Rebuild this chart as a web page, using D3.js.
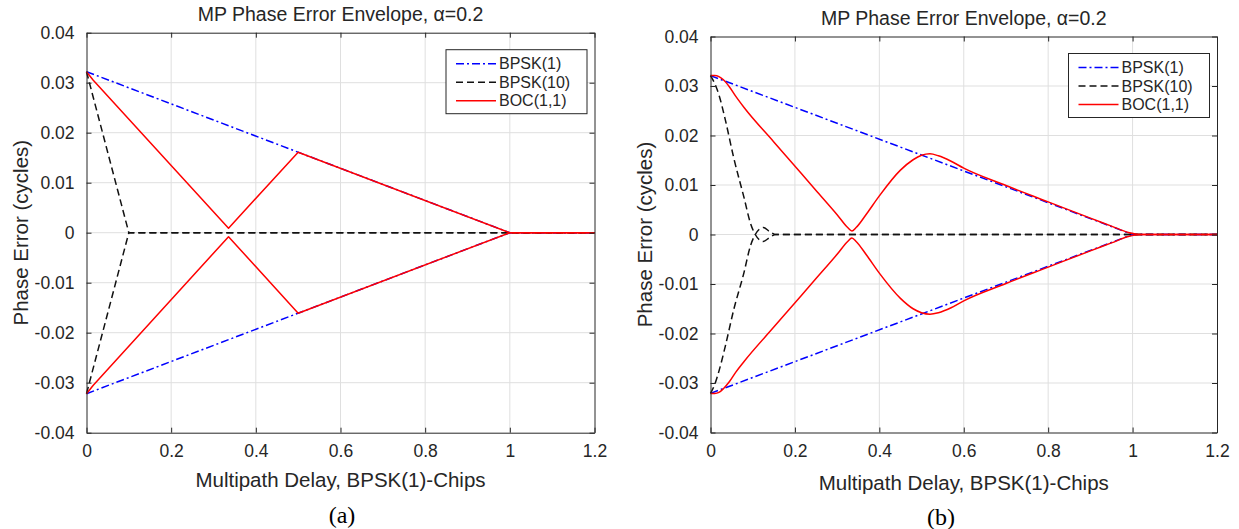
<!DOCTYPE html>
<html>
<head>
<meta charset="utf-8">
<script src="https://cdn.jsdelivr.net/npm/d3@7"></script>
<style>
  html, body { margin: 0; padding: 0; background: #fff; }
  svg { display: block; font-family: "Liberation Sans", Arial, Helvetica, sans-serif; }
</style>
</head>
<body>
<svg id="fig" width="1239" height="529"></svg>
<script>
// ---- axis ticks shared by both panels ----
const xTickValues = [0, 0.2, 0.4, 0.6, 0.8, 1, 1.2];
const xTickLabels = ["0", "0.2", "0.4", "0.6", "0.8", "1", "1.2"];
const yTickValues = [-0.04, -0.03, -0.02, -0.01, 0, 0.01, 0.02, 0.03, 0.04];
const yTickLabels = ["-0.04", "-0.03", "-0.02", "-0.01", "0", "0.01", "0.02", "0.03", "0.04"];
const seriesNames = ["BPSK(1)", "BPSK(10)", "BOC(1,1)"];
const titleText = "MP Phase Error Envelope, ";
const titleSymbol = "\u03B1=0.2";
const xLabelText = "Multipath Delay, BPSK(1)-Chips";
const yLabelText = "Phase Error (cycles)";
const captions = ["(a)", "(b)"];

// ---- (a) infinite-bandwidth envelopes: delay (chips) -> phase error (cycles) ----
const delayA_bpsk1 = [0, 1, 1.2];
const upperA_bpsk1 = [0.0322, 0, 0];
const lowerA_bpsk1 = [-0.0322, 0, 0];

const delayA_bpsk10 = [0, 0.1, 1.2];
const upperA_bpsk10 = [0.0322, 0, 0];
const lowerA_bpsk10 = [-0.0322, 0, 0];

const delayA_boc = [0, 0.016, 0.3355, 0.5, 1, 1.2];
const upperA_boc = [0.0322, 0.0305, 0.0009, 0.0161, 0, 0];
const lowerA_boc = [-0.0322, -0.0305, -0.0008, -0.0161, 0, 0];

// ---- (b) band-limited envelopes ----
const delayB_bpsk1 = [0, 1, 1.2];
const upperB_bpsk1 = [0.0321, 0, 0];
const lowerB_bpsk1 = [-0.0321, 0, 0];

const delayB_bpsk10 = [0, 0.01, 0.02, 0.035, 0.055, 0.079, 0.095, 0.106, 0.115, 0.125, 0.14, 0.155, 0.2, 1.2];
const upperB_bpsk10 = [0.0321, 0.0305, 0.0282, 0.0232, 0.0155, 0.0076, 0.0022, 0, -0.0010, -0.0014, -0.0006, 0, 0, 0];
const lowerB_bpsk10 = [-0.0321, -0.0303, -0.0276, -0.0226, -0.0152, -0.0078, -0.0022, 0, 0.0010, 0.0014, 0.0006, 0, 0, 0];

const delayB_boc = [0, 0.01, 0.02, 0.03, 0.045, 0.06, 0.08, 0.15, 0.25, 0.3, 0.325, 0.335, 0.345, 0.37,
                    0.4, 0.45, 0.48, 0.5, 0.52, 0.54, 0.57, 0.6, 0.7, 0.8, 0.9, 0.95, 0.99, 1.02, 1.2];
const upperB_boc = [0.0321, 0.0321, 0.0319, 0.0313, 0.0298, 0.0279, 0.0256, 0.0187, 0.0089, 0.0040, 0.0014, 0.0007, 0.0014, 0.0042,
                    0.0078, 0.0130, 0.0151, 0.0160, 0.0163, 0.0159, 0.0148, 0.0134, 0.0099, 0.0066, 0.0033, 0.0017, 0.0004, 0, 0];
const lowerB_boc = [-0.0321, -0.0321, -0.0319, -0.0312, -0.0297, -0.0278, -0.0256, -0.0187, -0.0089, -0.0040, -0.0014, -0.0007, -0.0014, -0.0042,
                    -0.0078, -0.0129, -0.0150, -0.0158, -0.0161, -0.0158, -0.0148, -0.0134, -0.0099, -0.0066, -0.0033, -0.0017, -0.0004, 0, 0];

// ---- styles ----
const INK = "#262626";
const GRID = "#dfdfdf";
const seriesStyle = [
  { color: "#0000ff", dash: "8,3,2,3", width: 1.5 },
  { color: "#111111", dash: "7,4", width: 1.5 },
  { color: "#ff0000", dash: null, width: 1.5 }
];

const zip = (xs, ys) => xs.map((x, i) => [x, ys[i]]);

const panels = [
  {
    frame: { left: 86.5, right: 594.5, top: 32.7, bottom: 432.7 },
    curves: [d3.curveLinear, d3.curveLinear, d3.curveLinear],
    series: [
      [zip(delayA_bpsk1, upperA_bpsk1), zip(delayA_bpsk1, lowerA_bpsk1)],
      [zip(delayA_bpsk10, upperA_bpsk10), zip(delayA_bpsk10, lowerA_bpsk10)],
      [zip(delayA_boc, upperA_boc), zip(delayA_boc, lowerA_boc)]
    ],
    yLabelX: 21, xLabelY: 487, caption: captions[0], captionX: 342, captionY: 523
  },
  {
    frame: { left: 710.5, right: 1217, top: 36.5, bottom: 432.5 },
    curves: [d3.curveLinear, d3.curveMonotoneX, d3.curveMonotoneX],
    series: [
      [zip(delayB_bpsk1, upperB_bpsk1), zip(delayB_bpsk1, lowerB_bpsk1)],
      [zip(delayB_bpsk10, upperB_bpsk10), zip(delayB_bpsk10, lowerB_bpsk10)],
      [zip(delayB_boc, upperB_boc), zip(delayB_boc, lowerB_boc)]
    ],
    yLabelX: 645, xLabelY: 490, caption: captions[1], captionX: 941, captionY: 525
  }
];

const svg = d3.select("#fig");

panels.forEach(p => {
  const f = p.frame;
  const x = d3.scaleLinear().domain([0, 1.2]).range([f.left, f.right]);
  const y = d3.scaleLinear().domain([-0.04, 0.04]).range([f.bottom, f.top]);
  const g = svg.append("g");

  // grid
  g.append("g").selectAll("line").data(xTickValues.slice(1, -1)).join("line")
    .attr("x1", d => x(d)).attr("x2", d => x(d)).attr("y1", f.top).attr("y2", f.bottom)
    .attr("stroke", GRID).attr("stroke-width", 1);
  g.append("g").selectAll("line").data(yTickValues.slice(1, -1)).join("line")
    .attr("y1", d => y(d)).attr("y2", d => y(d)).attr("x1", f.left).attr("x2", f.right)
    .attr("stroke", GRID).attr("stroke-width", 1);

  // data lines: upper and lower envelope of each signal
  p.series.forEach((pair, si) => {
    const st = seriesStyle[si];
    const line = d3.line().x(d => x(d[0])).y(d => y(d[1])).curve(p.curves[si]);
    pair.forEach(pts => {
      g.append("path").attr("d", line(pts))
        .attr("fill", "none").attr("stroke", st.color)
        .attr("stroke-width", st.width)
        .attr("stroke-dasharray", st.dash)
        .attr("stroke-linejoin", "round");
    });
  });

  // axes with inward ticks, box on all sides
  const tickLen = 5;
  const xAxisB = d3.axisBottom(x).tickValues(xTickValues).tickFormat((d, i) => xTickLabels[i]).tickSizeInner(-tickLen).tickSizeOuter(0).tickPadding(12);
  const xAxisT = d3.axisTop(x).tickValues(xTickValues).tickFormat("").tickSizeInner(-tickLen).tickSizeOuter(0);
  const yAxisL = d3.axisLeft(y).tickValues(yTickValues).tickFormat((d, i) => yTickLabels[i]).tickSizeInner(-tickLen).tickSizeOuter(0).tickPadding(12);
  const yAxisR = d3.axisRight(y).tickValues(yTickValues).tickFormat("").tickSizeInner(-tickLen).tickSizeOuter(0);

  const styleAxis = sel => {
    sel.select(".domain").attr("stroke", INK).attr("stroke-width", 1);
    sel.selectAll(".tick line").attr("stroke", INK).attr("stroke-width", 1);
    sel.selectAll(".tick text").attr("fill", INK).attr("font-size", 17.5)
      .attr("font-family", "'Liberation Sans', Arial, sans-serif");
  };
  g.append("g").attr("transform", `translate(0,${f.bottom})`).call(xAxisB).call(styleAxis);
  g.append("g").attr("transform", `translate(0,${f.top})`).call(xAxisT).call(styleAxis);
  g.append("g").attr("transform", `translate(${f.left},0)`).call(yAxisL).call(styleAxis);
  g.append("g").attr("transform", `translate(${f.right},0)`).call(yAxisR).call(styleAxis);

  // legend
  const lw = 141, lh = 64, rowGap = 18.5;
  const lx = f.right - 7.5 - lw, ly = f.top + 17;
  const lg = g.append("g");
  lg.append("rect").attr("x", lx).attr("y", ly).attr("width", lw).attr("height", lh)
    .attr("fill", "#fff").attr("stroke", INK).attr("stroke-width", 1);
  seriesNames.forEach((name, i) => {
    const ry = ly + 14 + i * rowGap;
    const st = seriesStyle[i];
    lg.append("line").attr("x1", lx + 10).attr("x2", lx + 50).attr("y1", ry).attr("y2", ry)
      .attr("stroke", st.color).attr("stroke-width", st.width).attr("stroke-dasharray", st.dash);
    lg.append("text").attr("x", lx + 53).attr("y", ry).attr("dy", "0.35em")
      .attr("font-size", 16).attr("fill", INK).text(name);
  });

  // title
  const cx = (f.left + f.right) / 2;
  const t = g.append("text").attr("x", cx).attr("y", f.top - 12).attr("text-anchor", "middle")
    .attr("font-size", 19.5).attr("fill", INK);
  t.append("tspan").text(titleText);
  t.append("tspan").text(titleSymbol);

  // axis labels
  g.append("text").attr("x", cx).attr("y", p.xLabelY).attr("text-anchor", "middle")
    .attr("font-size", 20.5).attr("fill", INK).text(xLabelText);
  g.append("text").attr("transform", `translate(${p.yLabelX},${(f.top + f.bottom) / 2}) rotate(-90)`)
    .attr("text-anchor", "middle").attr("dy", "0.35em")
    .attr("font-size", 20.5).attr("fill", INK).text(yLabelText);

  // caption
  svg.append("text").attr("x", p.captionX).attr("y", p.captionY).attr("text-anchor", "middle")
    .attr("font-family", "'Liberation Serif', 'Times New Roman', serif")
    .attr("font-size", 24).attr("fill", "#000").text(p.caption);
});
</script>
</body>
</html>
